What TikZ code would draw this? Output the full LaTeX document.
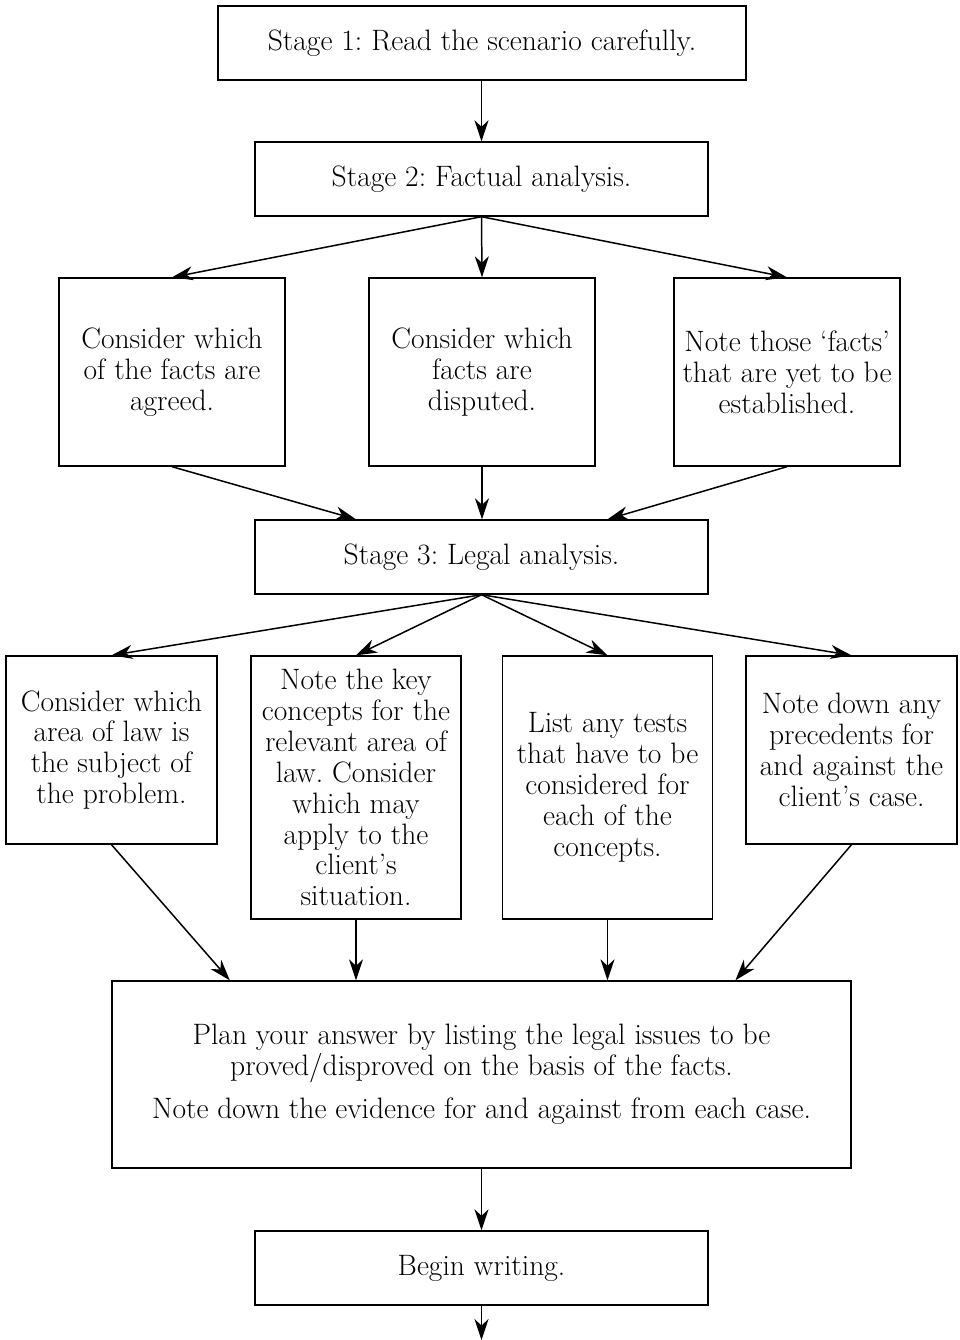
\documentclass[tikz,border=0pt]{standalone}
\usetikzlibrary{arrows.meta,calc}
\frenchspacing
\begin{document}
\begin{tikzpicture}[x=0.02cm,y=-0.02cm,
  box/.style={draw,line width=0.8pt,inner sep=0pt,align=center,
    font=\fontsize{16.8}{17.6}\selectfont},
  wide/.style={box,minimum width=9.06cm,minimum height=1.48cm},
  tall/.style={box,minimum width=4.52cm,minimum height=3.76cm},
  slim/.style={box,minimum width=4.22cm,minimum height=3.76cm},
  slimlong/.style={box,minimum width=4.2cm,minimum height=5.26cm},
  arr/.style={line width=0.85pt,-{Stealth[length=0.42cm,width=0.28cm,inset=0.13cm]}}]
\useasboundingbox (0,0) rectangle (960,1340);

% stages and the boxes between them
\node[box,minimum width=10.56cm,minimum height=1.48cm] (s1) at (482,43) {Stage 1: Read the scenario carefully.};
\node[wide] (s2) at (481.5,179) {Stage 2: Factual analysis.};
\node[tall] (a) at (172,372) {Consider which\\of the facts are\\agreed.};
\node[tall] (b) at (482,372) {Consider which\\facts are\\disputed.};
\node[tall] (c) at (787,372) {Note those `facts'\\that are yet to be\\established.};
\node[wide] (s3) at (481.5,557) {Stage 3: Legal analysis.};
\node[slim] (d) at (111.5,750) {Consider which\\area of law is\\the subject of\\the problem.};
\node[slimlong] (e) at (356,787.5) {Note the key\\concepts for the\\relevant area of\\law. Consider\\which may\\apply to the\\client's\\situation.};
\node[slimlong] (f) at (607.5,787.5) {List any tests\\that have to be\\considered for\\each of the\\concepts.};
\node[slim] (g) at (851.5,750) {Note down any\\precedents for\\and against the\\client's case.};
\node[box,minimum width=14.78cm,minimum height=3.74cm] (p) at (481.5,1074.5)
  {Plan your answer by listing the legal issues to be\\proved/disproved on the basis of the facts.\\[0.25cm]Note down the evidence for and against from each case.};
\node[wide] (w) at (481.5,1268) {Begin writing.};
\coordinate (end) at (481.5,1340);

% connectors
\draw[arr] (s1.south -| s2.south) -- (s2.north);
\draw[arr] (s2.south) -- (a.north);
\draw[arr] (s2.south) -- (b.north);
\draw[arr] (s2.south) -- (c.north);
\draw[arr] (a.south) -- (s3.north -| e.north);
\draw[arr] (b.south) -- (s3.north -| b.north);
\draw[arr] (c.south) -- (s3.north -| f.north);
\draw[arr] (s3.south) -- (d.north);
\draw[arr] (s3.south) -- (e.north);
\draw[arr] (s3.south) -- (f.north);
\draw[arr] (s3.south) -- (g.north);
\draw[arr] (d.south) -- ($(p.north west)!0.16!(p.north east)$);
\draw[arr] (e.south) -- (p.north -| e.south);
\draw[arr] (f.south) -- (p.north -| f.south);
\draw[arr] (g.south) -- ($(p.north west)!0.843!(p.north east)$);
\draw[arr] (p.south) -- (w.north);
\draw[arr] (w.south) -- (end);
\end{tikzpicture}
\end{document}
